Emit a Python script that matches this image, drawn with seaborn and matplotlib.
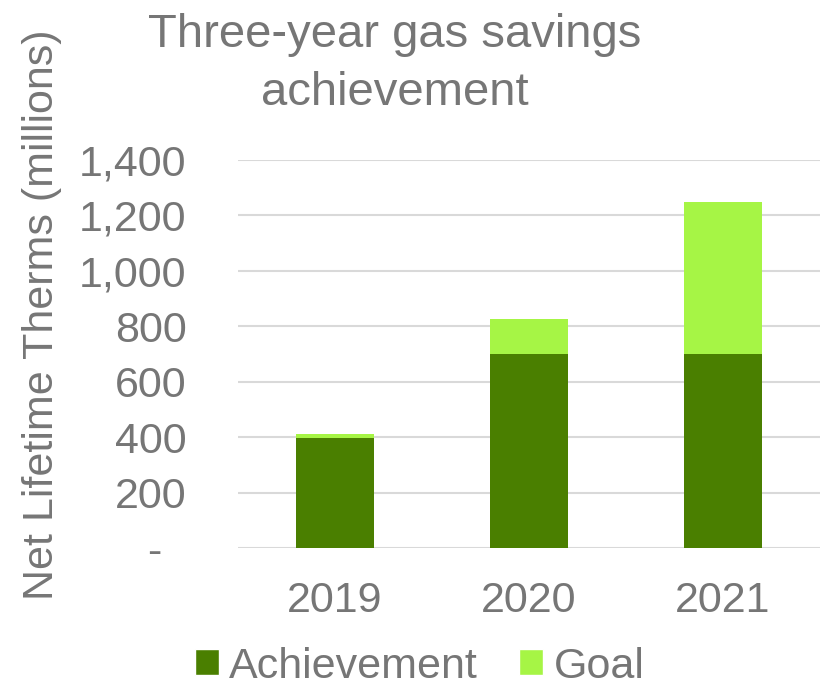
import matplotlib
matplotlib.use("Agg")
import matplotlib.pyplot as plt
import seaborn as sns
import pandas as pd
from matplotlib.ticker import FuncFormatter
from matplotlib.patches import Patch

# Data (millions of net lifetime therms)
years = ["2019", "2020", "2021"]
achievement = [398, 700, 700]
goal = [13, 128, 548]   # stacked on top of achievement

DARK = "#4a7f00"
LIGHT = "#a6f545"
TEXT = "#767676"
GRID = "#d9d9d9"

sns.set_style("white")
plt.rcParams["font.family"] = ["Liberation Sans", "DejaVu Sans"]

df = pd.DataFrame({"Year": years, "Achievement": achievement, "Goal": goal})
df["Total"] = df["Achievement"] + df["Goal"]

fig = plt.figure(figsize=(8.23, 6.85), dpi=100)
ax = fig.add_axes([0.289, 0.2, 0.707, 0.5664])

sns.barplot(data=df, x="Year", y="Total", color=LIGHT, width=0.4,
            saturation=1, linewidth=0, ax=ax, zorder=2)
sns.barplot(data=df, x="Year", y="Achievement", color=DARK, width=0.4,
            saturation=1, linewidth=0, ax=ax, zorder=3)

ax.set_xlim(-0.5, 2.5)
ax.set_ylim(0, 1400)
ax.set_yticks(range(0, 1401, 200))
ax.yaxis.set_major_formatter(FuncFormatter(lambda v, p: "-  " if v == 0 else f"{int(v):,}"))
ax.yaxis.grid(True, color=GRID, linewidth=1.5, zorder=0)
ax.set_axisbelow(True)
for s in ax.spines.values():
    s.set_visible(False)

ax.tick_params(axis="y", length=0, pad=37, labelsize=31, labelcolor=TEXT)
ax.tick_params(axis="x", length=0, pad=24, labelsize=31, labelcolor=TEXT)
ax.set_xlabel("")
ax.set_ylabel("")

fig.text(0.051, 0.54, "Net Lifetime Therms (millions)", rotation=90,
         ha="center", va="center", fontsize=31, color=TEXT)
fig.text(0.48, 0.981, "Three-year gas savings\nachievement", ha="center",
         va="top", fontsize=34, color=TEXT, linespacing=1.42)

handles = [Patch(facecolor=DARK, label="Achievement"),
           Patch(facecolor=LIGHT, label="Goal")]
fig.legend(handles=handles, loc="center", bbox_to_anchor=(0.51, 0.027),
           ncol=2, frameon=False, fontsize=31, labelcolor=TEXT,
           handlelength=0.55, handleheight=0.55, handletextpad=0.25,
           columnspacing=0.95, borderpad=0)

fig.savefig("out.png", dpi=100)
